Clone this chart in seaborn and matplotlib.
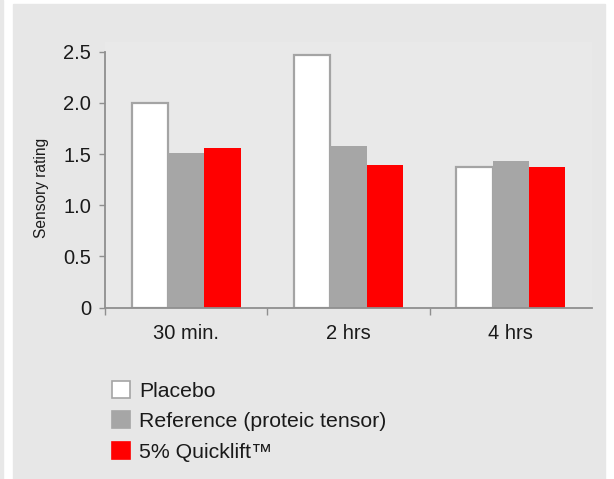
import numpy as np
import pandas as pd
import seaborn as sns
import matplotlib.pyplot as plt
from matplotlib.patches import Rectangle, Patch

# data
times = ["30 min.", "2 hrs", "4 hrs"]
groups = ["Placebo", "Reference (proteic tensor)", "5% Quicklift\u2122"]
placebo = [2.00, 2.47, 1.37]
reference = [1.51, 1.58, 1.43]
quicklift = [1.56, 1.39, 1.37]
colors = ["#ffffff", "#a6a6a6", "#ff0000"]
yticks = [0, 0.5, 1.0, 1.5, 2.0, 2.5]
ytick_labels = ["0", "0.5", "1.0", "1.5", "2.0", "2.5"]

df = pd.DataFrame({
    "time": times * 3,
    "group": np.repeat(groups, len(times)),
    "rating": placebo + reference + quicklift,
})

sns.set_theme(style="white")
plt.rcParams["font.family"] = ["Liberation Sans", "DejaVu Sans"]

axis_col = "#8f8f8f"
text_col = "#1a1a1a"

fig = plt.figure(figsize=(6.14, 4.79), dpi=100, facecolor="white")
# grey panel behind the chart, thin strip on the far left
fig.patches.append(Rectangle((0, 0), 3 / 614, 1, transform=fig.transFigure,
                             color="#e8e8e8", zorder=-10))
fig.patches.append(Rectangle((13 / 614, 0), (605 - 13) / 614, 475 / 479,
                             transform=fig.transFigure, color="#e7e7e7", zorder=-10))

ax = fig.add_axes([105 / 614, 1 - 307.5 / 479, (592 - 105) / 614, (307.5 - 42) / 479])
ax.set_facecolor("#e9e9e9")

sns.barplot(data=df, x="time", y="rating", hue="group", palette=colors,
            saturation=1, width=0.672, gap=0, edgecolor="none",
            legend=False, ax=ax)

# outline only the white placebo bars
for bar in ax.containers[0]:
    bar.set_edgecolor("#a4a4a4")
    bar.set_linewidth(1.6)

ax.set_ylim(0, 2.595)
ax.set_xlim(-0.5, 2.5)
ax.set_yticks(yticks, ytick_labels)
ax.set_xticks([-0.5, 0.5, 1.5], minor=True)

for s in ["top", "right"]:
    ax.spines[s].set_visible(False)
ax.spines["left"].set_bounds(0, 2.5)
for s in ["left", "bottom"]:
    ax.spines[s].set_color(axis_col)
    ax.spines[s].set_linewidth(1.3)

ax.tick_params(axis="y", left=True, length=4, width=1, color=axis_col,
               pad=6, labelsize=14.5, labelcolor=text_col)
ax.tick_params(axis="x", which="major", bottom=False, length=0, pad=12,
               labelsize=14.5, labelcolor=text_col)
ax.tick_params(axis="x", which="minor", bottom=True, length=5, width=1,
               color=axis_col, direction="out")

ax.set_xlabel("")
ax.set_ylabel("Sensory rating", fontsize=11.2, color=text_col)
ax.yaxis.set_label_coords(-0.115, 0.45)

handles = [Patch(facecolor=c, edgecolor=("#a4a4a4" if c == "#ffffff" else c), linewidth=1.2)
           for c in colors]
fig.legend(handles=handles, labels=groups, loc="upper left",
           bbox_to_anchor=(112 / 614, 1 - 381 / 479), frameon=False,
           fontsize=15.3, handlelength=0.85, handleheight=0.85,
           handletextpad=0.42, labelspacing=0.5, borderpad=0,
           borderaxespad=0, labelcolor=text_col)

fig.savefig("out.png", dpi=100, facecolor="white")
